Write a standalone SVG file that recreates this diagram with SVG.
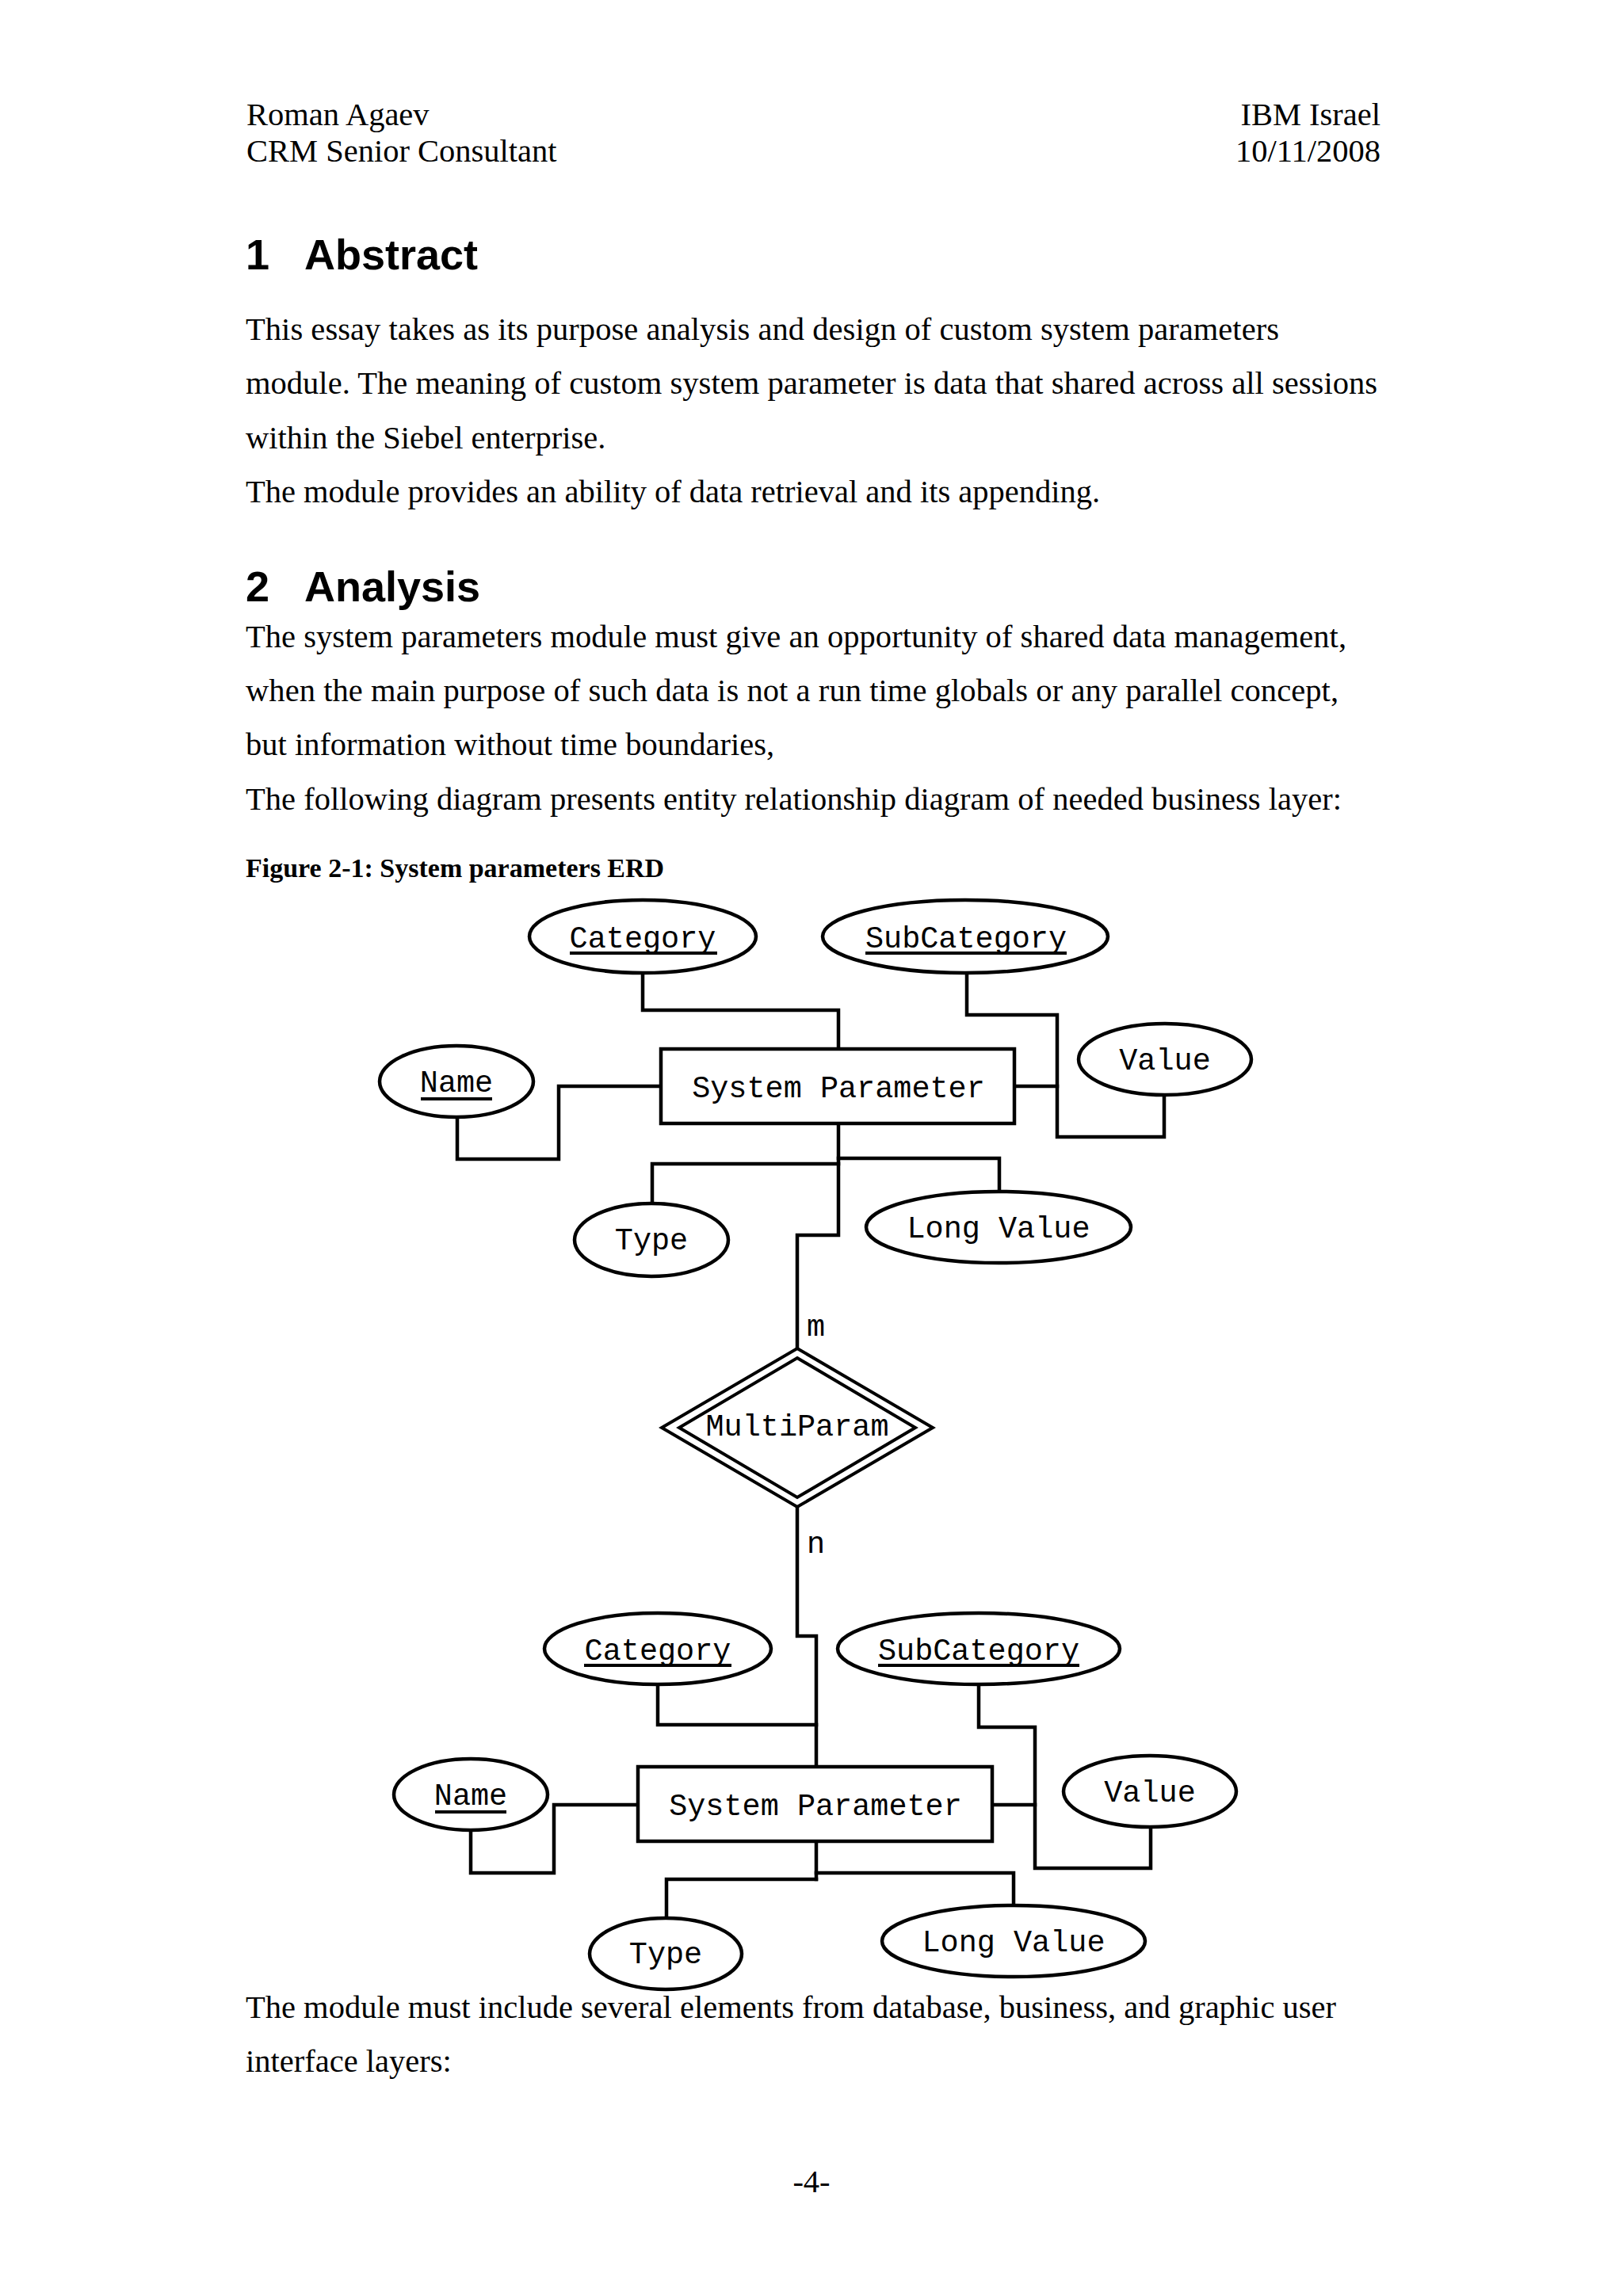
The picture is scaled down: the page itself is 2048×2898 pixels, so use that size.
<svg xmlns="http://www.w3.org/2000/svg" width="2048" height="2898" viewBox="0 0 2048 2898">
<style>
.body{font-family:"Liberation Serif","Times New Roman",serif;font-size:40.5px;fill:#000}
.h1{font-family:"Liberation Sans",Arial,sans-serif;font-size:54px;font-weight:bold;fill:#000}
.cap{font-family:"Liberation Serif","Times New Roman",serif;font-size:34px;font-weight:bold;fill:#000}
.lbl{font-family:"Liberation Mono","Courier New",monospace;font-size:38.5px;fill:#000;text-anchor:middle}
.shape{fill:#fff;stroke:#000;stroke-width:4.5}
.dia{fill:none;stroke:#000;stroke-width:4}
.con{fill:none;stroke:#000;stroke-width:4.5;stroke-linejoin:miter;stroke-linecap:square}
.ul{fill:#000}
</style>
<rect width="2048" height="2898" fill="#fff"/>
<g id="page-text">
<text class="body" x="311" y="158">Roman Agaev</text>
<text class="body" x="311" y="204">CRM Senior Consultant</text>
<text class="body" x="1742" y="158" text-anchor="end">IBM Israel</text>
<text class="body" x="1742" y="204" text-anchor="end">10/11/2008</text>
<text class="h1" x="310" y="340">1</text>
<text class="h1" x="384" y="340">Abstract</text>
<text class="body" x="310" y="429" textLength="1304" lengthAdjust="spacing">This essay takes as its purpose analysis and design of custom system parameters</text>
<text class="body" x="310" y="497" textLength="1428" lengthAdjust="spacing">module. The meaning of custom system parameter is data that shared across all sessions</text>
<text class="body" x="310" y="566">within the Siebel enterprise.</text>
<text class="body" x="310" y="634" textLength="1078" lengthAdjust="spacing">The module provides an ability of data retrieval and its appending.</text>
<text class="h1" x="310" y="759">2</text>
<text class="h1" x="384" y="759">Analysis</text>
<text class="body" x="310" y="817" textLength="1389" lengthAdjust="spacing">The system parameters module must give an opportunity of shared data management,</text>
<text class="body" x="310" y="885" textLength="1379" lengthAdjust="spacing">when the main purpose of such data is not a run time globals or any parallel concept,</text>
<text class="body" x="310" y="953">but information without time boundaries,</text>
<text class="body" x="310" y="1022" textLength="1383" lengthAdjust="spacing">The following diagram presents entity relationship diagram of needed business layer:</text>
<text class="cap" x="310" y="1107">Figure 2-1: System parameters ERD</text>
<text class="body" x="310" y="2547" textLength="1376" lengthAdjust="spacing">The module must include several elements from database, business, and graphic user</text>
<text class="body" x="310" y="2615">interface layers:</text>
<text class="body" x="1024" y="2767" text-anchor="middle">-4-</text>
</g>
<g id="connectors">
<path class="con" d="M811,1228 V1275 H1058 V1324"/>
<path class="con" d="M1220,1228 V1281 H1334 V1435 H1469 V1382"/>
<path class="con" d="M1280,1371 H1334"/>
<path class="con" d="M834,1371 H705 V1463 H577 V1410"/>
<path class="con" d="M1058,1418 V1559 H1006 V1700"/>
<path class="con" d="M1058,1462 H1261 V1504"/>
<path class="con" d="M1058,1469 H823 V1519"/>
<path class="con" d="M1006,1904 V2065 H1030 V2230"/>
<path class="con" d="M830,2126 V2177 H1030"/>
<path class="con" d="M1235,2127 V2180 H1306 V2358 H1452 V2306"/>
<path class="con" d="M1252,2278 H1306"/>
<path class="con" d="M805,2278 H699 V2364 H594 V2311"/>
<path class="con" d="M1030,2324 V2372"/>
<path class="con" d="M1030,2364 H1279 V2405"/>
<path class="con" d="M1030,2372 H841 V2421"/>
<text class="lbl" x="1018" y="1686" text-anchor="start" style="text-anchor:start">m</text>
<text class="lbl" x="1018" y="1960" text-anchor="start" style="text-anchor:start">n</text>
</g>
<g id="top-category"><ellipse class="shape" cx="811" cy="1182" rx="143" ry="46"/><text class="lbl" x="811" y="1196">Category</text><rect class="ul" x="719" y="1201" width="186" height="4"/></g>
<g id="top-subcategory"><ellipse class="shape" cx="1218" cy="1182" rx="180" ry="46"/><text class="lbl" x="1219" y="1196">SubCategory</text><rect class="ul" x="1092" y="1201" width="254" height="4"/></g>
<g id="top-name"><ellipse class="shape" cx="576" cy="1365" rx="97" ry="45"/><text class="lbl" x="576" y="1378">Name</text><rect class="ul" x="531" y="1385" width="90" height="4"/></g>
<g id="top-value"><ellipse class="shape" cx="1470" cy="1337" rx="109" ry="45"/><text class="lbl" x="1470" y="1350">Value</text></g>
<g id="top-system-parameter"><rect class="shape" x="834" y="1324" width="446" height="94"/><text class="lbl" x="1058" y="1385">System Parameter</text></g>
<g id="top-type"><ellipse class="shape" cx="822" cy="1565" rx="97" ry="46"/><text class="lbl" x="822" y="1577">Type</text></g>
<g id="top-long-value"><ellipse class="shape" cx="1260" cy="1549" rx="167" ry="45"/><text class="lbl" x="1260" y="1562">Long Value</text></g>
<g id="multiparam">
<polygon points="1006,1702 1177,1802 1006,1902 835,1802" fill="#fff" stroke="#000" stroke-width="4"/>
<polygon class="dia" points="1006,1714 1155,1802 1006,1890 857,1802"/>
<text class="lbl" x="1006" y="1812">MultiParam</text>
</g>
<g id="bottom-category"><ellipse class="shape" cx="830" cy="2081" rx="143" ry="45"/><text class="lbl" x="830" y="2095">Category</text><rect class="ul" x="737" y="2100" width="186" height="4"/></g>
<g id="bottom-subcategory"><ellipse class="shape" cx="1235" cy="2081" rx="178" ry="45"/><text class="lbl" x="1235" y="2095">SubCategory</text><rect class="ul" x="1108" y="2100" width="254" height="4"/></g>
<g id="bottom-name"><ellipse class="shape" cx="594" cy="2265" rx="97" ry="45"/><text class="lbl" x="594" y="2278">Name</text><rect class="ul" x="549" y="2285" width="90" height="4"/></g>
<g id="bottom-value"><ellipse class="shape" cx="1451" cy="2261" rx="109" ry="45"/><text class="lbl" x="1451" y="2274">Value</text></g>
<g id="bottom-system-parameter"><rect class="shape" x="805" y="2230" width="447" height="94"/><text class="lbl" x="1029" y="2291">System Parameter</text></g>
<g id="bottom-type"><ellipse class="shape" cx="840" cy="2466" rx="96" ry="45"/><text class="lbl" x="840" y="2478">Type</text></g>
<g id="bottom-long-value"><ellipse class="shape" cx="1279" cy="2450" rx="166" ry="45"/><text class="lbl" x="1279" y="2463">Long Value</text></g>
</svg>
